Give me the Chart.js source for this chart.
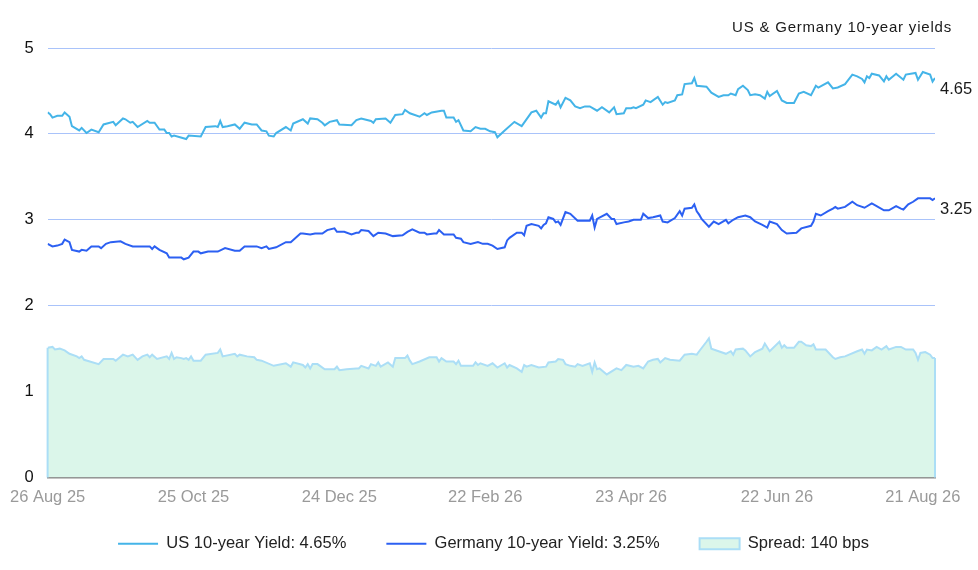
<!DOCTYPE html>
<html>
<head>
<meta charset="utf-8">
<title>US & Germany 10-year yields</title>
<script src="https://cdn.jsdelivr.net/npm/chart.js@4.4.1/dist/chart.umd.min.js"></script>
<style>
  html, body { margin: 0; padding: 0; background: #ffffff; }
  #wrap { width: 978px; height: 570px; position: relative; }
</style>
</head>
<body>
<div id="wrap"><canvas id="myChart"></canvas></div>
<script>
// x axis = days since 26 Aug 25
const tickDays = [0, 60, 120, 180, 240, 300, 360];
const tickLabels = ["26 Aug 25", "25 Oct 25", "24 Dec 25", "22 Feb 26", "23 Apr 26", "22 Jun 26", "21 Aug 26"];
const yTicks = [0, 1, 2, 3, 4, 5];

const seriesNames = ["US 10-year Yield: 4.65%", "Germany 10-year Yield: 3.25%", "Spread: 140 bps"];
const lastLabels = ["4.65", "3.25"];

const usDays = [0, 1, 2, 4, 6, 7, 9, 10, 13, 14, 16, 18, 21, 23, 27, 28, 31, 32, 34, 35, 37, 41, 42, 44, 46, 48, 49, 50, 51, 52, 57, 58, 63, 65, 69, 70, 71, 72, 74, 77, 79, 81, 84, 86, 88, 90, 91, 93, 94, 98, 100, 101, 105, 107, 108, 111, 113, 114, 116, 119, 120, 125, 127, 129, 133, 134, 135, 139, 141, 143, 146, 147, 149, 153, 155, 156, 158, 162, 163, 164, 167, 168, 169, 171, 174, 176, 178, 180, 182, 184, 185, 188, 192, 195, 199, 201, 203, 204, 205, 206, 209, 210, 211, 213, 215, 217, 219, 221, 223, 226, 228, 231, 233, 234, 237, 238, 240, 241, 242, 245, 246, 248, 251, 253, 254, 255, 258, 259, 261, 262, 265, 266, 267, 271, 273, 276, 278, 280, 281, 283, 284, 286, 288, 289, 291, 293, 295, 296, 297, 300, 302, 304, 307, 309, 311, 314, 316, 317, 321, 323, 325, 328, 331, 333, 335, 336, 337, 338, 339, 342, 344, 345, 346, 349, 352, 353, 357, 358, 360, 363, 364, 365];
const usYield = [4.25, 4.23, 4.19, 4.21, 4.21, 4.25, 4.20, 4.09, 4.04, 4.07, 4.01, 4.05, 4.02, 4.11, 4.14, 4.10, 4.18, 4.17, 4.13, 4.14, 4.08, 4.15, 4.13, 4.13, 4.05, 4.05, 4.01, 4.01, 3.97, 3.98, 3.94, 3.98, 3.97, 4.08, 4.09, 4.08, 4.15, 4.08, 4.09, 4.11, 4.06, 4.13, 4.11, 4.11, 4.04, 4.03, 3.98, 3.97, 4.01, 4.08, 4.04, 4.12, 4.17, 4.12, 4.18, 4.17, 4.13, 4.10, 4.14, 4.16, 4.11, 4.10, 4.16, 4.18, 4.15, 4.13, 4.17, 4.18, 4.13, 4.22, 4.23, 4.28, 4.24, 4.20, 4.24, 4.22, 4.25, 4.27, 4.27, 4.19, 4.19, 4.14, 4.16, 4.04, 4.03, 4.08, 4.06, 4.06, 4.03, 4.02, 3.96, 4.04, 4.14, 4.09, 4.25, 4.27, 4.19, 4.24, 4.24, 4.38, 4.34, 4.38, 4.31, 4.42, 4.39, 4.32, 4.30, 4.32, 4.32, 4.27, 4.31, 4.25, 4.31, 4.23, 4.24, 4.30, 4.30, 4.31, 4.30, 4.34, 4.39, 4.37, 4.43, 4.34, 4.37, 4.36, 4.39, 4.45, 4.46, 4.58, 4.59, 4.65, 4.56, 4.55, 4.48, 4.43, 4.45, 4.45, 4.47, 4.45, 4.52, 4.56, 4.51, 4.45, 4.46, 4.45, 4.41, 4.49, 4.44, 4.50, 4.39, 4.36, 4.36, 4.47, 4.49, 4.45, 4.56, 4.54, 4.60, 4.53, 4.54, 4.58, 4.69, 4.67, 4.64, 4.60, 4.67, 4.65, 4.70, 4.68, 4.61, 4.67, 4.63, 4.70, 4.63, 4.69, 4.71, 4.63, 4.72, 4.69, 4.61, 4.65];

const deDays = [0, 2, 4, 6, 7, 9, 10, 13, 14, 16, 18, 21, 22, 24, 26, 30, 32, 35, 42, 43, 44, 46, 49, 50, 55, 56, 58, 60, 62, 63, 66, 70, 73, 77, 79, 81, 86, 88, 90, 91, 94, 98, 100, 104, 105, 108, 110, 113, 115, 118, 119, 122, 125, 127, 128, 129, 132, 134, 136, 139, 142, 146, 148, 150, 153, 155, 156, 159, 160, 161, 163, 167, 168, 170, 171, 174, 177, 179, 181, 183, 185, 188, 189, 190, 193, 195, 196, 197, 199, 202, 203, 204, 205, 206, 208, 209, 210, 211, 213, 215, 218, 223, 224, 225, 226, 230, 232, 233, 234, 237, 239, 241, 244, 245, 247, 249, 252, 253, 255, 258, 260, 261, 262, 265, 266, 267, 268, 269, 272, 274, 276, 279, 280, 282, 284, 287, 289, 291, 294, 296, 297, 300, 302, 304, 308, 310, 314, 315, 316, 318, 321, 323, 324, 325, 328, 331, 333, 336, 339, 341, 344, 346, 349, 351, 352, 354, 356, 358, 363, 364, 365];
const deYield = [2.72, 2.69, 2.70, 2.72, 2.77, 2.74, 2.65, 2.63, 2.65, 2.64, 2.69, 2.69, 2.67, 2.72, 2.74, 2.75, 2.72, 2.69, 2.69, 2.66, 2.69, 2.65, 2.61, 2.56, 2.56, 2.54, 2.56, 2.63, 2.63, 2.61, 2.63, 2.63, 2.67, 2.64, 2.64, 2.69, 2.69, 2.67, 2.69, 2.66, 2.68, 2.74, 2.74, 2.84, 2.84, 2.83, 2.84, 2.84, 2.88, 2.90, 2.86, 2.86, 2.83, 2.85, 2.85, 2.88, 2.87, 2.81, 2.85, 2.84, 2.81, 2.82, 2.86, 2.89, 2.85, 2.85, 2.83, 2.84, 2.84, 2.88, 2.83, 2.83, 2.79, 2.78, 2.74, 2.72, 2.74, 2.72, 2.72, 2.70, 2.66, 2.68, 2.76, 2.79, 2.85, 2.85, 2.82, 2.93, 2.95, 2.93, 2.90, 2.94, 2.96, 3.03, 3.01, 2.97, 2.98, 2.94, 3.09, 3.07, 2.99, 2.99, 3.05, 2.91, 3.01, 3.07, 3.01, 3.01, 2.95, 2.97, 2.98, 3.00, 3.00, 3.07, 3.02, 3.03, 3.05, 2.98, 2.97, 3.02, 3.10, 3.05, 3.13, 3.14, 3.18, 3.10, 3.06, 3.01, 2.92, 2.98, 2.95, 3.00, 2.96, 3.00, 3.03, 3.05, 3.03, 2.98, 2.94, 2.91, 2.98, 2.95, 2.88, 2.84, 2.85, 2.90, 2.93, 2.98, 3.07, 3.05, 3.10, 3.13, 3.15, 3.13, 3.15, 3.21, 3.17, 3.14, 3.19, 3.16, 3.11, 3.11, 3.16, 3.13, 3.12, 3.18, 3.21, 3.25, 3.25, 3.23, 3.25];

const spreadDays = [0, 2, 3, 5, 7, 9, 12, 13, 14, 15, 21, 23, 27, 28, 31, 33, 35, 37, 39, 41, 42, 43, 45, 49, 50, 51, 52, 53, 55, 56, 57, 58, 59, 60, 63, 65, 70, 71, 72, 77, 78, 79, 82, 85, 86, 88, 93, 98, 100, 101, 105, 106, 107, 108, 109, 111, 114, 118, 119, 120, 123, 127, 128, 129, 132, 133, 135, 136, 137, 140, 142, 143, 147, 148, 149, 150, 153, 157, 160, 161, 162, 164, 167, 168, 169, 170, 175, 176, 177, 178, 181, 183, 185, 188, 189, 190, 193, 195, 196, 197, 199, 202, 205, 206, 209, 210, 212, 213, 215, 217, 218, 220, 223, 224, 225, 226, 227, 230, 234, 236, 238, 241, 243, 245, 247, 249, 251, 252, 254, 256, 260, 262, 265, 267, 268, 271, 272, 273, 276, 279, 281, 282, 283, 286, 287, 289, 291, 294, 295, 297, 301, 302, 303, 304, 307, 309, 310, 312, 314, 315, 316, 320, 323, 324, 326, 328, 333, 335, 336, 337, 339, 341, 343, 345, 346, 349, 351, 353, 356, 357, 358, 359, 361, 363, 364, 365];
const spreadVals = [1.51, 1.52, 1.49, 1.50, 1.48, 1.44, 1.41, 1.39, 1.41, 1.37, 1.32, 1.38, 1.38, 1.36, 1.43, 1.41, 1.43, 1.37, 1.41, 1.43, 1.40, 1.43, 1.38, 1.41, 1.38, 1.45, 1.38, 1.40, 1.39, 1.38, 1.39, 1.37, 1.41, 1.36, 1.36, 1.43, 1.45, 1.49, 1.41, 1.44, 1.41, 1.43, 1.41, 1.40, 1.37, 1.36, 1.30, 1.33, 1.29, 1.34, 1.31, 1.28, 1.32, 1.27, 1.32, 1.32, 1.26, 1.26, 1.29, 1.25, 1.26, 1.27, 1.27, 1.30, 1.27, 1.32, 1.30, 1.34, 1.29, 1.34, 1.29, 1.39, 1.39, 1.42, 1.36, 1.32, 1.35, 1.40, 1.40, 1.35, 1.39, 1.35, 1.35, 1.32, 1.36, 1.30, 1.30, 1.34, 1.31, 1.33, 1.30, 1.33, 1.28, 1.33, 1.28, 1.31, 1.27, 1.23, 1.31, 1.29, 1.31, 1.28, 1.29, 1.34, 1.35, 1.38, 1.37, 1.32, 1.30, 1.29, 1.32, 1.30, 1.33, 1.23, 1.34, 1.26, 1.27, 1.20, 1.27, 1.25, 1.31, 1.29, 1.30, 1.27, 1.35, 1.37, 1.38, 1.34, 1.39, 1.37, 1.36, 1.43, 1.44, 1.43, 1.47, 1.58, 1.62, 1.50, 1.47, 1.44, 1.47, 1.43, 1.49, 1.50, 1.48, 1.41, 1.46, 1.50, 1.56, 1.47, 1.58, 1.51, 1.54, 1.51, 1.51, 1.58, 1.58, 1.54, 1.53, 1.55, 1.49, 1.49, 1.40, 1.38, 1.40, 1.41, 1.47, 1.49, 1.44, 1.49, 1.48, 1.52, 1.49, 1.53, 1.49, 1.52, 1.52, 1.49, 1.49, 1.45, 1.37, 1.45, 1.46, 1.43, 1.39, 1.39];

const usColor = "#44b4e8";
const deColor = "#2c60f2";
const spreadLine = "#abdef6";
const spreadFill = "#dbf6ea";
const gridColor = "#a9c3fa";
const fontFamily = "'Liberation Sans', Arial, sans-serif";

const toPoints = (days, vals) => days.map((d, i) => ({ x: d, y: vals[i] }));

// legend sits a bit right of the plot centre; x labels need room below the short axis box
const ajustarLayout = {
  id: "ajustarLayout",
  afterLayout(chart) {
    chart.legend.left += 26;
    chart.legend.right += 26;
    chart.scales.x.bottom += 40;
  },
};

// spread edges, end-of-line value labels and the title
const extraText = {
  id: "extraText",
  afterDatasetsDraw(chart) {
    const { ctx, chartArea } = chart;
    ctx.save();

    const sMeta = chart.getDatasetMeta(2);
    const zeroY = chart.scales.y.getPixelForValue(0);
    const first = sMeta.data[0];
    const last = sMeta.data[sMeta.data.length - 1];
    ctx.strokeStyle = spreadLine;
    ctx.lineWidth = 2;
    ctx.beginPath();
    ctx.moveTo(first.x, first.y);
    ctx.lineTo(first.x, zeroY);
    ctx.moveTo(last.x, last.y);
    ctx.lineTo(last.x, zeroY);
    ctx.stroke();

    ctx.fillStyle = "#1a1a1a";
    ctx.font = "16.5px " + fontFamily;
    ctx.textAlign = "left";
    ctx.textBaseline = "middle";
    [0, 1].forEach((i) => {
      const pts = chart.getDatasetMeta(i).data;
      const p = pts[pts.length - 1];
      ctx.fillText(lastLabels[i], chartArea.right + 5, p.y + 11);
    });

    ctx.font = "15px " + fontFamily;
    ctx.letterSpacing = "0.8px";
    ctx.textAlign = "right";
    ctx.fillText("US & Germany 10-year yields", 952, 28);
    ctx.restore();
  },
};

const config = {
  type: "line",
  data: {
    datasets: [
      {
        label: seriesNames[0],
        data: toPoints(usDays, usYield),
        borderColor: usColor,
        backgroundColor: usColor,
        borderWidth: 2,
        pointRadius: 0,
        pointStyle: "line",
        tension: 0,
        fill: false,
      },
      {
        label: seriesNames[1],
        data: toPoints(deDays, deYield),
        borderColor: deColor,
        backgroundColor: deColor,
        borderWidth: 2,
        pointRadius: 0,
        pointStyle: "line",
        tension: 0,
        fill: false,
      },
      {
        label: seriesNames[2],
        data: toPoints(spreadDays, spreadVals),
        borderColor: spreadLine,
        backgroundColor: spreadFill,
        borderWidth: 2,
        pointRadius: 0,
        pointStyle: "rect",
        tension: 0,
        fill: "origin",
      },
    ],
  },
  options: {
    responsive: true,
    maintainAspectRatio: false,
    animation: false,
    layout: { padding: { left: 0, right: 43, top: 48, bottom: 8 } },
    plugins: {
      title: { display: false },
      tooltip: { enabled: false },
      legend: {
        position: "bottom",
        labels: {
          usePointStyle: true,
          pointStyleWidth: 40,
          boxHeight: 11,
          padding: 40,
          color: "#222",
          font: { family: fontFamily, size: 16.5 },
        },
      },
    },
    scales: {
      x: {
        type: "linear",
        min: 0,
        max: 365,
        afterBuildTicks: (scale) => {
          scale.ticks = tickDays.map((v) => ({ value: v }));
        },
        afterFit: (scale) => {
          scale.height = 18;
        },
        ticks: {
          autoSkip: false,
          maxRotation: 0,
          padding: 10,
          color: "#9a9a9a",
          font: { family: fontFamily, size: 16.5 },
          callback: (value, index) => tickLabels[index],
        },
        grid: { display: false, drawTicks: false },
        border: { display: true, color: "#8a8a8a", width: 1.5 },
      },
      y: {
        min: 0,
        max: 5,
        afterBuildTicks: (scale) => {
          scale.ticks = yTicks.map((v) => ({ value: v }));
        },
        afterFit: (scale) => {
          scale.width = 47;
        },
        ticks: {
          padding: 14,
          color: "#111",
          font: { family: fontFamily, size: 16.5 },
        },
        grid: {
          drawTicks: false,
          color: (ctx) => (ctx.tick && ctx.tick.value === 0 ? "rgba(0,0,0,0)" : gridColor),
        },
        border: { display: false },
      },
    },
  },
  plugins: [ajustarLayout, extraText],
};

const myChart = new Chart(document.querySelector("#myChart"), config);
</script>
</body>
</html>
